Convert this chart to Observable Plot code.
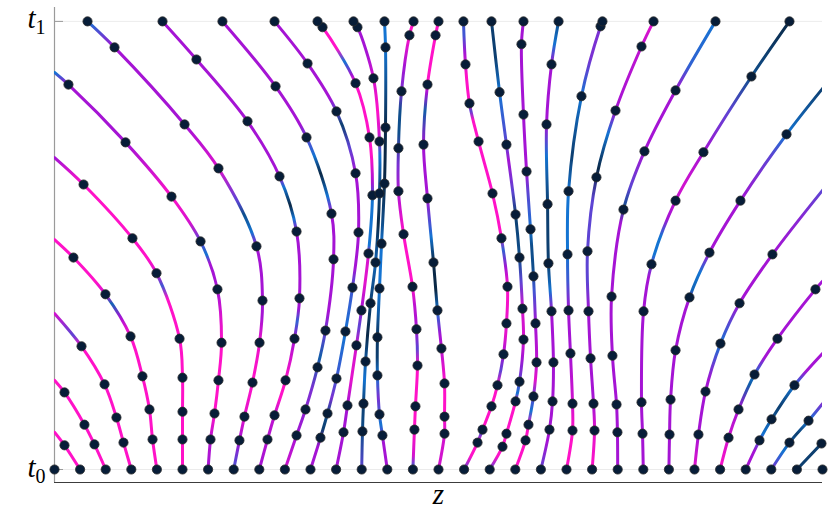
<!DOCTYPE html>
<html>
<head>
<meta charset="utf-8">
<script src="https://cdn.jsdelivr.net/npm/d3@7"></script>
<script src="https://cdn.jsdelivr.net/npm/@observablehq/plot@0.6"></script>
<style>
  html, body { margin: 0; padding: 0; background: #fff; }
  #chart { width: 830px; height: 516px; }
</style>
</head>
<body>
<div id="chart"></div>
<script>
// Trajectory points [z, t] (third element 0 = frame exit, no dot), one list per trajectory
const paths = [
  [[-3,0]],
  [[-2.8,0],[-2.922,0.054],[-3,0.083,0]],
  [[-2.6,0],[-2.688,0.056],[-2.766,0.100],[-2.922,0.172],[-3,0.199,0]],
  [[-2.4,0],[-2.461,0.060],[-2.516,0.116],[-2.609,0.190],[-2.789,0.275],[-3,0.348,0]],
  [[-2.2,0],[-2.234,0.067],[-2.258,0.134],[-2.313,0.208],[-2.406,0.297],[-2.602,0.391],[-2.852,0.473],[-3,0.513,0]],
  [[-2,0],[-2,0.067],[-2,0.129],[-2,0.205],[-2.023,0.292],[-2.203,0.438],[-2.391,0.516],[-2.773,0.636],[-3,0.696,0]],
  [[-1.8,0],[-1.781,0.067],[-1.75,0.125],[-1.719,0.199],[-1.695,0.283],[-1.727,0.402],[-1.859,0.509],[-2.086,0.609],[-2.445,0.730],[-2.891,0.859],[-3,0.886,0]],
  [[-1.6,0],[-1.555,0.065],[-1.516,0.118],[-1.453,0.194],[-1.398,0.283],[-1.375,0.377],[-1.422,0.498],[-1.719,0.672],[-1.984,0.770],[-2.531,0.942],[-2.742,1]],
  [[-1.4,0],[-1.336,0.067],[-1.281,0.121],[-1.195,0.199],[-1.125,0.292],[-1.086,0.382],[-1.109,0.531],[-1.242,0.654],[-1.492,0.777],[-1.891,0.915],[-2.156,1]],
  [[-1.2,0],[-1.109,0.076],[-1.039,0.134],[-0.945,0.228],[-0.883,0.310],[-0.820,0.469],[-0.836,0.571],[-1.031,0.741],[-1.273,0.855],[-1.688,1]],
  [[-1,0],[-0.922,0.071],[-0.867,0.125],[-0.797,0.203],[-0.727,0.308],[-0.672,0.406],[-0.625,0.529],[-0.648,0.661],[-0.797,0.799],[-1.023,0.906],[-1.281,1]],
  [[-0.8,0],[-0.742,0.083],[-0.711,0.143],[-0.641,0.277],[-0.602,0.355],[-0.547,0.482],[-0.516,0.612],[-0.539,0.741],[-0.648,0.862],[-0.906,0.987],[-0.945,1]],
  [[-0.6,0],[-0.594,0.085],[-0.586,0.147],[-0.570,0.241],[-0.531,0.371],[-0.492,0.462],[-0.461,0.616],[-0.461,0.732],[-0.508,0.873],[-0.633,0.987],[-0.664,1]],
  [[-0.4,0],[-0.438,0.076],[-0.461,0.123],[-0.477,0.210],[-0.477,0.295],[-0.461,0.404],[-0.445,0.504],[-0.422,0.638],[-0.414,0.763],[-0.414,0.942],[-0.422,1]],
  [[-0.2,0],[-0.188,0.089],[-0.180,0.141],[-0.164,0.232],[-0.172,0.313],[-0.203,0.408],[-0.273,0.525],[-0.313,0.621],[-0.313,0.717],[-0.289,0.844],[-0.227,0.969],[-0.195,1]],
  [[0,0],[0.047,0.080],[0.047,0.118],[0.047,0.192],[0.023,0.270],[-0.008,0.355],[-0.039,0.462],[-0.086,0.605],[-0.117,0.725],[-0.086,0.859],[-0.023,0.969],[0,1]],
  [[0.2,0],[0.305,0.060],[0.344,0.089],[0.414,0.141],[0.461,0.188],[0.508,0.257],[0.531,0.326],[0.539,0.408],[0.492,0.516],[0.422,0.616],[0.313,0.732],[0.242,0.817],[0.211,0.904],[0.195,1]],
  [[0.4,0],[0.5,0.051],[0.531,0.080],[0.602,0.152],[0.633,0.196],[0.664,0.290],[0.656,0.359],[0.633,0.473],[0.602,0.569],[0.531,0.725],[0.477,0.842],[0.414,1]],
  [[0.6,0],[0.680,0.065],[0.703,0.100],[0.742,0.163],[0.766,0.239],[0.758,0.326],[0.742,0.431],[0.719,0.536],[0.688,0.665],[0.664,0.792],[0.648,0.949],[0.664,1]],
  [[0.8,0],[0.867,0.089],[0.891,0.152],[0.898,0.239],[0.883,0.353],[0.859,0.460],[0.852,0.592],[0.844,0.770],[0.883,0.904],[0.938,1]],
  [[1,0],[1.047,0.087],[1.047,0.147],[1.031,0.259],[1.016,0.355],[1.008,0.480],[1.016,0.621],[1.117,0.833],[1.266,0.989],[1.281,1]],
  [[1.2,0],[1.219,0.087],[1.211,0.147],[1.188,0.248],[1.172,0.353],[1.164,0.487],[1.234,0.652],[1.383,0.801],[1.586,0.944],[1.680,1]],
  [[1.4,0],[1.398,0.083],[1.391,0.145],[1.359,0.254],[1.352,0.386],[1.445,0.580],[1.609,0.710],[1.852,0.846],[2.164,1]],
  [[1.6,0],[1.594,0.080],[1.586,0.150],[1.602,0.353],[1.664,0.458],[1.852,0.600],[2.070,0.708],[2.445,0.877],[2.742,1]],
  [[1.8,0],[1.805,0.078],[1.813,0.156],[1.852,0.266],[1.961,0.384],[2.117,0.484],[2.359,0.600],[2.719,0.748],[3,0.850,0]],
  [[2,0],[2.031,0.078],[2.086,0.174],[2.203,0.281],[2.352,0.371],[2.609,0.480],[3,0.623,0]],
  [[2.2,0],[2.266,0.071],[2.344,0.134],[2.469,0.212],[2.648,0.292],[2.945,0.402],[3,0.420,0]],
  [[2.4,0],[2.508,0.065],[2.602,0.112],[2.781,0.188],[3,0.259,0]],
  [[2.6,0],[2.742,0.060],[2.891,0.109],[3,0.147,0]],
  [[2.8,0],[2.992,0.058]],
  [[3,0]]
];

// Colour value along each trajectory as [t, tone]; tone 0 navy, 1 blue, 2 purple, 3 magenta
const tones = [
  [[0,3]],
  [[0,3],[0.083,3]],
  [[0,3],[0.199,3]],
  [[0,3],[0.275,3],[0.30,1.5],[0.348,2.5]],
  [[0,3],[0.30,3],[0.34,2],[0.37,0.8],[0.39,2.5],[0.42,3],[0.513,3]],
  [[0,3],[0.38,3],[0.41,1.3],[0.438,2.5],[0.47,3],[0.636,3],[0.696,2]],
  [[0,2],[0.067,2.2],[0.125,3],[0.283,3],[0.34,2.6],[0.402,2],[0.46,2],[0.48,1],[0.51,1.5],[0.55,2.5],[0.61,3],[0.66,2.5],[0.73,2],[0.859,2],[0.886,1]],
  [[0,1.3],[0.065,2],[0.118,2.7],[0.2,3],[0.283,2.8],[0.34,2],[0.498,2],[0.53,1],[0.57,0.5],[0.60,1.5],[0.672,2.6],[0.77,2],[0.942,2],[1,1]],
  [[0,2],[0.121,2.3],[0.16,3],[0.199,3],[0.25,2.5],[0.292,2],[0.33,1.2],[0.36,2],[0.531,2],[0.56,1],[0.59,0],[0.63,1],[0.654,2],[1,2]],
  [[0,2.5],[0.076,2],[0.18,1.7],[0.25,0.7],[0.30,1.5],[0.35,2],[0.571,2],[0.61,1],[0.66,0],[0.70,1],[0.741,1.5],[0.77,2],[1,2]],
  [[0,2],[0.05,2],[0.09,0.3],[0.125,0.5],[0.16,1.7],[0.203,1.3],[0.30,1],[0.406,1.3],[0.45,2],[0.661,2],[0.72,1.5],[0.77,0.3],[0.80,1.5],[0.83,2],[1,2]],
  [[0,2],[0.143,2],[0.2,2.7],[0.277,2.5],[0.32,1.5],[0.355,2],[0.42,2.7],[0.482,2.5],[0.5,1],[0.6,1],[0.64,2],[0.70,3],[0.862,3],[0.88,2],[0.91,1],[0.94,3],[1,3]],
  [[0,1.5],[0.085,0.5],[0.147,0.3],[0.2,1],[0.241,0.7],[0.3,0],[0.371,0.3],[0.462,0.8],[0.55,0],[0.616,0.3],[0.70,1],[0.75,2.5],[0.80,3],[0.873,2.5],[0.93,2],[1,2]],
  [[0,2],[0.06,2],[0.1,1],[0.16,1.7],[0.21,1],[0.25,0.3],[0.3,0.2],[0.35,0.7],[0.404,1],[0.5,1],[0.55,0.5],[0.64,0],[0.76,0],[0.85,0.5],[0.94,1],[1,1]],
  [[0,1],[0.03,2.5],[0.089,3],[0.232,3],[0.27,1.5],[0.313,2],[0.37,2.3],[0.408,3],[0.525,3],[0.6,2.3],[0.68,1.7],[0.75,0.5],[0.80,0.5],[0.844,1.7],[0.9,2],[0.969,3],[1,3]],
  [[0,2.5],[0.080,2.5],[0.118,3],[0.192,3],[0.24,2.5],[0.30,2],[0.355,1],[0.40,0],[0.462,0],[0.52,1],[0.605,2],[0.725,2],[0.80,0.7],[0.84,2],[0.87,3],[1,3]],
  [[0,1.5],[0.03,3],[0.06,3],[0.08,1.5],[0.1,3],[0.188,3],[0.22,1.5],[0.257,2],[0.3,2.7],[0.408,3],[0.45,2],[0.49,1.2],[0.53,3],[0.78,3],[0.80,1.5],[0.82,3],[0.88,3],[0.93,2],[0.97,1.3],[1,1.3]],
  [[0,1.5],[0.03,3],[0.152,3],[0.17,1],[0.196,1.5],[0.25,2],[0.29,2.5],[0.359,2.5],[0.42,1.5],[0.473,0.5],[0.569,0.3],[0.62,1.5],[0.69,2],[0.725,1.5],[0.842,1],[0.92,0.3],[1,0.3]],
  [[0,3],[0.100,3],[0.13,1],[0.163,1.5],[0.2,2.7],[0.239,2.3],[0.326,2],[0.40,1.3],[0.45,0.5],[0.50,0.5],[0.536,1],[0.62,1.5],[0.665,2],[1,2]],
  [[0,1.5],[0.06,2],[0.353,2],[0.40,1],[0.46,0.3],[0.592,0.3],[0.70,1],[0.77,2],[0.904,2],[0.95,1],[1,0.5]],
  [[0,3],[0.087,3],[0.147,2.5],[0.259,2],[0.355,2],[0.42,1.3],[0.48,1],[0.621,1],[0.7,0.3],[0.833,1],[0.92,1.7],[1,1.7]],
  [[0,3],[0.087,2.7],[0.147,2],[0.353,2],[0.42,1.5],[0.487,1.5],[0.6,1.5],[0.67,0],[0.75,1],[0.801,2],[0.944,2.3],[1,2.7]],
  [[0,2],[0.386,2],[0.55,2],[0.585,0.5],[0.63,1.5],[0.71,2],[0.846,2],[0.9,1.2],[1,1]],
  [[0,2],[0.43,2],[0.48,1],[0.52,1],[0.56,2],[0.63,2.5],[0.708,2],[0.80,1.5],[0.877,0.5],[1,0]],
  [[0,2],[0.37,2],[0.40,0.8],[0.44,1],[0.484,2],[0.6,2],[0.7,1.5],[0.748,1],[0.85,0.3]],
  [[0,2.7],[0.078,2],[0.2,2],[0.281,1],[0.33,1.5],[0.371,2],[0.480,2],[0.56,1.8],[0.623,1.5]],
  [[0,3],[0.071,2.5],[0.134,2],[0.19,0.7],[0.212,1],[0.25,2],[0.42,2]],
  [[0,2],[0.04,2],[0.08,1],[0.14,0.3],[0.188,1],[0.22,2],[0.259,2]],
  [[0,1.7],[0.04,1],[0.08,0.3],[0.109,1],[0.147,1.7]],
  [[0,0.3],[0.058,0.3]],
  [[0,0.3]]
];

const toneColors = ["#0a2846", "#1474d2", "#a514d4", "#ff12c8"];
const yTicks = [0, 1];
const yTickSubs = ["0", "1"];
const yTickBase = "t";
const xLabel = "z";
const zDomain = [-3, 3];
const tDomain = [-0.029, 1.031];

const palette = d3.scaleLinear().domain([0, 1, 2, 3]).range(toneColors).interpolate(d3.interpolateRgb);

const gradients = (index, scales) => {
  const NS = "http://www.w3.org/2000/svg";
  const defs = document.createElementNS(NS, "defs");
  tones.forEach((stops, k) => {
    const g = document.createElementNS(NS, "linearGradient");
    g.setAttribute("id", `traj-${k}`);
    g.setAttribute("gradientUnits", "userSpaceOnUse");
    g.setAttribute("x1", 0); g.setAttribute("x2", 0);
    g.setAttribute("y1", scales.y(0)); g.setAttribute("y2", scales.y(1));
    for (const [t, c] of stops) {
      const s = document.createElementNS(NS, "stop");
      s.setAttribute("offset", t);
      s.setAttribute("stop-color", palette(c));
      g.appendChild(s);
    }
    defs.appendChild(g);
  });
  return defs;
};

const lineMarks = paths.flatMap((p, k) => p.length > 1 ? [
  Plot.line(p, {x: d => d[0], y: d => d[1], stroke: `url(#traj-${k})`, strokeWidth: 3, curve: "catmull-rom", clip: true})
] : []);

const dotData = paths.flatMap(p => p.filter(d => d[2] !== 0));

const serif = "'Liberation Serif', 'DejaVu Serif', serif";

const chart = Plot.plot({
  width: 830,
  height: 516,
  marginLeft: 54,
  marginRight: 8,
  marginTop: 7,
  marginBottom: 34,
  x: {domain: zDomain, axis: null},
  y: {domain: tDomain, axis: null},
  marks: [
    gradients,
    Plot.ruleY(yTicks, {stroke: "#000", strokeOpacity: 0.08}),
    Plot.tickY(yTicks, {stroke: "#999", insetRight: 759}),
    Plot.ruleX([zDomain[0]], {stroke: "#9a9a9a", strokeWidth: 1.2}),
    Plot.ruleY([tDomain[0]], {stroke: "#3c3c3c", strokeWidth: 1.2}),
    ...lineMarks,
    Plot.dot(dotData, {x: d => d[0], y: d => d[1], r: 4.6, fill: "#071d38", stroke: "#2b2b2b", strokeWidth: 0.8}),
    Plot.text(yTicks, {y: d => d, frameAnchor: "left", text: () => yTickBase, dx: -19, dy: 7, textAnchor: "end", lineAnchor: "bottom", fontSize: 29, fontStyle: "italic", fontFamily: serif, fill: "#000"}),
    Plot.text(yTicks, {y: d => d, frameAnchor: "left", text: (d, i) => yTickSubs[i], dx: -19, dy: 13, textAnchor: "start", lineAnchor: "bottom", fontSize: 20, fontFamily: serif, fill: "#000"}),
    Plot.text([xLabel], {frameAnchor: "bottom", text: d => d, dy: 21, lineAnchor: "bottom", fontSize: 29, fontStyle: "italic", fontFamily: serif, fill: "#000"})
  ]
});
document.getElementById("chart").appendChild(chart);
</script>
</body>
</html>
